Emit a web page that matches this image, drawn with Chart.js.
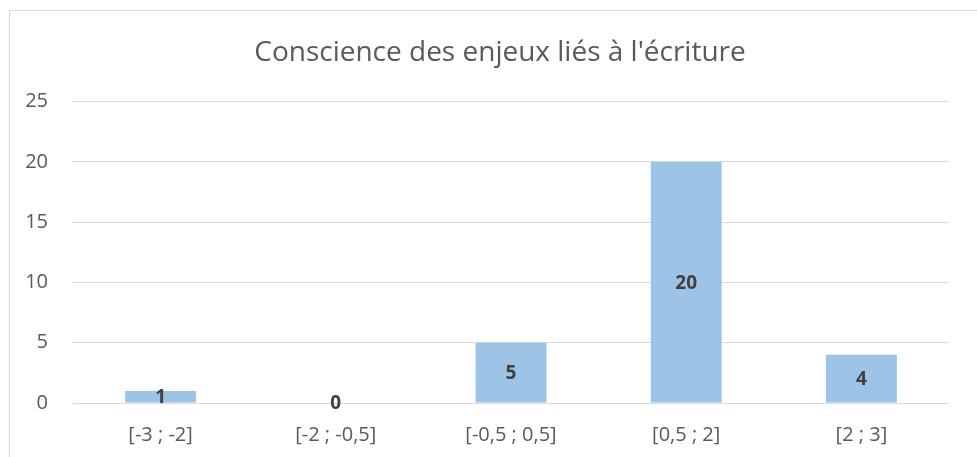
<!DOCTYPE html>
<html>
<head>
<meta charset="utf-8">
<script src="https://cdn.jsdelivr.net/npm/chart.js@4"></script>
<style>
  body { margin: 0; background: #fff; overflow: hidden; }
  #frame { position: absolute; left: 9px; top: 10px; width: 1000px; height: 500px; border: 1px solid #d9d9d9; }
  #wrap { position: absolute; left: 0; top: 0; width: 1000px; height: 457px; }
</style>
</head>
<body>
<div id="frame"></div>
<div id="wrap"><canvas id="chart"></canvas></div>
<script>
const categories = ["[-3 ; -2]", "[-2 ; -0,5]", "[-0,5 ; 0,5]", "[0,5 ; 2]", "[2 ; 3]"];
const counts = [1, 0, 5, 20, 4];
const yTicks = [0, 5, 10, 15, 20, 25];
const chartTitle = "Conscience des enjeux liés à l'écriture";

const FONT = "'Open Sans', 'Noto Sans', sans-serif";

// draw the value in the middle of each bar
const barLabels = {
    id: "barLabels",
    afterDatasetsDraw(chart) {
        const ctx = chart.ctx;
        const meta = chart.getDatasetMeta(0);
        ctx.save();
        ctx.font = "bold 19px " + FONT;
        ctx.fillStyle = "#404040";
        ctx.textAlign = "center";
        ctx.textBaseline = "middle";
        meta.data.forEach(function (bar, i) {
            const mid = (bar.y + bar.base) / 2;
            ctx.fillText(String(counts[i]), bar.x, mid + 1);
        });
        ctx.restore();
    }
};

// centre the title on the whole frame, not on the padded layout box
const wideTitle = {
    id: "wideTitle",
    afterLayout(chart) {
        if (chart.titleBlock) {
            chart.titleBlock.left = 0;
            chart.titleBlock.right = chart.width;
        }
    }
};

const ctx = document.getElementById("chart").getContext("2d");
new Chart(ctx, {
    type: "bar",
    data: {
        labels: categories,
        datasets: [
            {
                data: counts,
                backgroundColor: "#9dc3e6",
                categoryPercentage: 1,
                barPercentage: 0.405,
            },
        ],
    },
    options: {
        responsive: true,
        maintainAspectRatio: false,
        animation: false,
        layout: { padding: { left: 0, right: 51, top: 0, bottom: 0 } },
        plugins: {
            legend: { display: false },
            tooltip: { enabled: false },
            title: {
                display: true,
                text: chartTitle,
                color: "#595959",
                font: { family: FONT, size: 28, weight: "normal" },
                padding: { top: 36, bottom: 32 },
            },
        },
        scales: {
            x: {
                afterFit(scale) { scale.height = 54; },
                grid: { display: false },
                border: { display: false },
                ticks: {
                    color: "#595959",
                    font: { family: FONT, size: 20 },
                    padding: 12,
                },
            },
            y: {
                min: 0,
                max: 25,
                afterBuildTicks(scale) {
                    scale.ticks = yTicks.map(function (v) { return { value: v }; });
                },
                afterFit(scale) { scale.width = 73; },
                grid: { color: "#d9d9d9", lineWidth: 1, drawTicks: false },
                border: { display: false },
                ticks: {
                    color: "#595959",
                    font: { family: FONT, size: 20 },
                    padding: 25,
                },
            },
        },
    },
    plugins: [barLabels, wideTitle],
});
</script>
</body>
</html>
